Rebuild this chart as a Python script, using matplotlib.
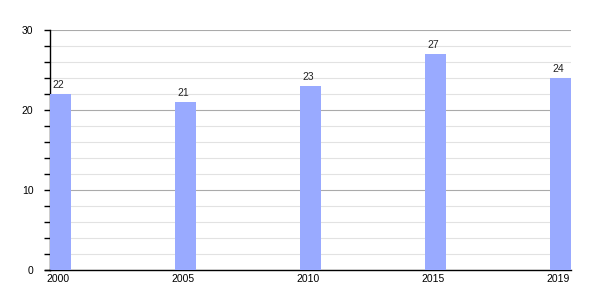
import matplotlib
matplotlib.use("Agg")
import matplotlib.pyplot as plt
from matplotlib.ticker import MultipleLocator
from matplotlib.lines import Line2D

plt.rcParams['font.family'] = ['Liberation Sans', 'DejaVu Sans']

years = ["2000", "2005", "2010", "2015", "2019"]
values = [22, 21, 23, 27, 24]

fig = plt.figure(figsize=(6, 3), dpi=100)
ax = fig.add_axes([50/600, 1-270/300, 521/600, 240/300])

w = 0.168
x = list(range(len(years)))
ax.bar(x, values, width=w, color="#99aaff", zorder=3)
for xi, v in zip(x, values):
    ax.text(xi - 0.02, v + 0.45, str(v), ha="center", va="bottom", fontsize=7.5, color="#222222", zorder=4)

ax.set_xlim(-w/2, len(years) - 1 + w/2)
ax.set_ylim(0, 30)
ax.set_xticks([xi - 0.02 for xi in x])
ax.set_xticklabels(years, fontsize=7.5)
ax.yaxis.set_major_locator(MultipleLocator(10))
ax.yaxis.set_minor_locator(MultipleLocator(2))
ax.tick_params(axis="y", which="major", labelsize=7.5, length=4, direction="out", pad=8, width=1)
ax.tick_params(axis="y", which="minor", length=4, direction="out", width=1)
ax.tick_params(axis="x", length=0, pad=3)
ax.grid(axis="y", which="major", color="#aaaaaa", linewidth=0.8, zorder=0)
ax.grid(axis="y", which="minor", color="#e2e2e2", linewidth=0.8, zorder=0)
for s in ["top", "right"]:
    ax.spines[s].set_visible(False)
ax.spines["left"].set_linewidth(1.0)
ax.spines["bottom"].set_linewidth(1.0)
# bottom axis line extends slightly left of the y axis, as in the reference
fig.add_artist(Line2D([45/600, 50/600], [1-270/300, 1-270/300], color="black", linewidth=1.0))

fig.savefig("out.png", dpi=100)
